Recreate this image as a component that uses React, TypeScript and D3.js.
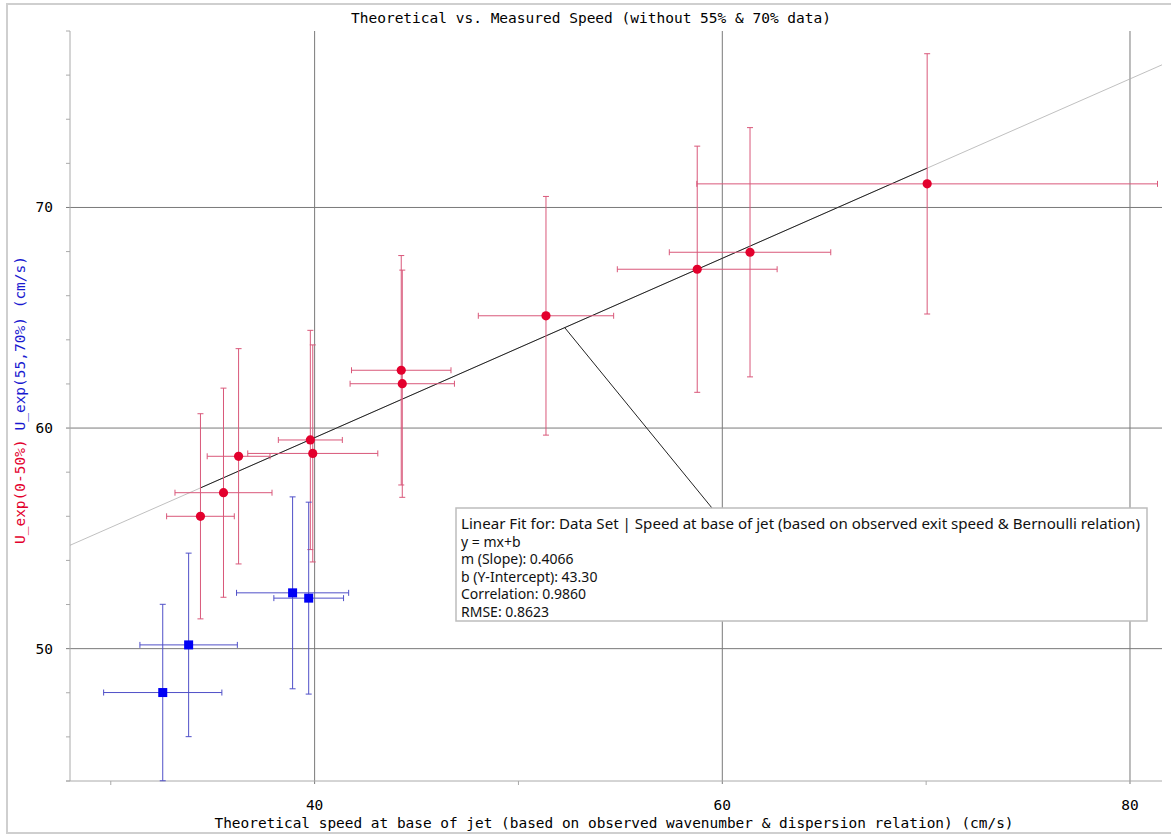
import React from 'react';
import * as d3 from 'd3';

// measured points, 0-50% runs (red) and 55,70% runs (blue)
const redX = [34.4, 35.53, 36.27, 39.79, 39.91, 44.25, 44.3, 51.35, 58.77, 61.36, 70.05];
const redY = [56.0, 57.07, 58.72, 59.46, 58.85, 62.62, 62.01, 65.09, 67.2, 67.97, 71.07];
const redXErr = [1.66, 2.38, 1.54, 1.57, 3.19, 2.44, 2.56, 3.32, 3.92, 3.96, 11.3];
const redYErr = [4.65, 4.74, 4.88, 4.97, 4.92, 5.2, 5.15, 5.41, 5.58, 5.65, 5.9];

const blueX = [32.55, 33.82, 38.92, 39.71];
const blueY = [48.01, 50.17, 52.53, 52.29];
const blueXErr = [2.9, 2.39, 2.75, 1.71];
const blueYErr = [4.0, 4.16, 4.35, 4.35];

const fitSlope = 0.4066;
const fitIntercept = 43.3;
const annotAnchorX = 52.27;

const xMajor = [40, 60, 80];
const xMinor = [30, 50, 70];
const yMajor = [50, 60, 70];

const boxLines = [
  'Linear Fit for: Data Set | Speed at base of jet (based on observed exit speed & Bernoulli relation)',
  'y = mx+b',
  'm (Slope): 0.4066',
  'b (Y-Intercept): 43.30',
  'Correlation: 0.9860',
  'RMSE: 0.8623',
];

const W = 1171;
const H = 837;
const left = 70, right = 1162, top = 31, bottom = 781;

const RED = '#e3002d';
const RED_BAR = '#d9587a';
const BLUE = '#0000f5';
const BLUE_BAR = '#5050c8';
const MONO = '"DejaVu Sans Mono", monospace';

export default function App() {
  const x = d3.scaleLinear().domain([28, 81.57]).range([left, right]);
  const y = d3.scaleLinear().domain([44, 78]).range([bottom, top]);
  const yMinor = y.ticks(17).filter(v => v % 10 !== 0);
  const fit = (v: number) => fitSlope * v + fitIntercept;
  const cap = 3;

  const errBars = (xs: number[], ys: number[], xe: number[], ye: number[], color: string) =>
    xs.map((xv, i) => {
      const cx = x(xv), cy = y(ys[i]);
      const x0 = x(xv - xe[i]), x1 = x(xv + xe[i]);
      const y0 = y(ys[i] - ye[i]), y1 = y(ys[i] + ye[i]);
      return (
        <g key={i} stroke={color} strokeWidth={1} fill="none">
          <line x1={x0} x2={x1} y1={cy} y2={cy} />
          <line x1={x0} x2={x0} y1={cy - cap} y2={cy + cap} />
          <line x1={x1} x2={x1} y1={cy - cap} y2={cy + cap} />
          <line x1={cx} x2={cx} y1={y0} y2={y1} />
          <line x1={cx - cap} x2={cx + cap} y1={y0} y2={y0} />
          <line x1={cx - cap} x2={cx + cap} y1={y1} y2={y1} />
        </g>
      );
    });

  const xMin = d3.min(redX)!, xMax = d3.max(redX)!;
  const ax = x(annotAnchorX), ay = y(fit(annotAnchorX));
  const boxX = 456, boxY = 508, boxW = 691, boxH = 113;

  return (
    <svg width={W} height={H} style={{ position: 'absolute', left: 0, top: 0, background: '#fff' }}>
      <rect x={7} y={4} width={W} height={829} fill="#fff" stroke="#cfcfcf" strokeWidth={2} />

      {/* grid */}
      {xMajor.map(v => (
        <line key={'gx' + v} x1={x(v)} x2={x(v)} y1={top} y2={bottom + 3} stroke="#7a7a7a" />
      ))}
      {yMajor.map(v => (
        <line key={'gy' + v} x1={left - 4} x2={right} y1={y(v)} y2={y(v)} stroke="#7a7a7a" />
      ))}

      {/* axes */}
      <line x1={left} x2={left} y1={top} y2={bottom} stroke="#aaa" />
      <line x1={left - 4} x2={right} y1={bottom} y2={bottom} stroke="#aaa" />
      {yMinor.map(v => (
        <line key={'my' + v} x1={left - 4} x2={left} y1={y(v)} y2={y(v)} stroke="#aaa" />
      ))}
      {xMinor.map(v => (
        <line key={'mx' + v} x1={x(v)} x2={x(v)} y1={bottom} y2={bottom + 4} stroke="#aaa" />
      ))}

      {/* fit line */}
      <line x1={x(28)} x2={x(81.57)} y1={y(fit(28))} y2={y(fit(81.57))} stroke="#b0b0b0" strokeWidth={0.8} />
      <line x1={x(xMin)} x2={x(xMax)} y1={y(fit(xMin))} y2={y(fit(xMax))} stroke="#222" strokeWidth={1} />

      {errBars(redX, redY, redXErr, redYErr, RED_BAR)}
      {errBars(blueX, blueY, blueXErr, blueYErr, BLUE_BAR)}

      {redX.map((v, i) => (
        <circle key={'r' + i} cx={x(v)} cy={y(redY[i])} r={4.6} fill={RED} />
      ))}
      {blueX.map((v, i) => (
        <rect key={'b' + i} x={x(v) - 4.5} y={y(blueY[i]) - 4.5} width={9} height={9} fill={BLUE} />
      ))}

      {/* annotation */}
      <line x1={ax} y1={ay} x2={712} y2={boxY} stroke="#222" strokeWidth={1} />
      <rect x={boxX} y={boxY} width={boxW} height={boxH} fill="#fff" stroke="#bdbdbd" strokeWidth={1.5} />
      {boxLines.map((t, i) => (
        <text
          key={'bl' + i}
          x={461}
          y={529 + i * 17.5}
          fontFamily='"Noto Sans", sans-serif'
          fontSize={14}
          fill="#111"
          {...(i === 0 ? { textLength: 679, lengthAdjust: 'spacingAndGlyphs' } : {})}
        >
          {t}
        </text>
      ))}

      {/* tick labels */}
      {xMajor.map(v => (
        <text key={'tx' + v} x={x(v)} y={810} textAnchor="middle" fontFamily={MONO} fontSize={14.5} fill="#000">
          {v}
        </text>
      ))}
      {yMajor.map(v => (
        <text key={'ty' + v} x={53} y={y(v) + 5} textAnchor="end" fontFamily={MONO} fontSize={14.5} fill="#000">
          {v}
        </text>
      ))}

      {/* titles */}
      <text x={591} y={23} textAnchor="middle" fontFamily={MONO} fontSize={14.5} fill="#000"
        textLength={480} lengthAdjust="spacingAndGlyphs">
        Theoretical vs. Measured Speed (without 55% &amp; 70% data)
      </text>
      <text x={614} y={828} textAnchor="middle" fontFamily={MONO} fontSize={14.5} fill="#000"
        textLength={799} lengthAdjust="spacingAndGlyphs">
        Theoretical speed at base of jet (based on observed wavenumber &amp; dispersion relation) (cm/s)
      </text>
      <text transform={`translate(25, 400) rotate(-90)`} textAnchor="middle"
        fontFamily={MONO} fontSize={14.5}>
        <tspan fill={RED}>U_exp(0-50%)</tspan>
        <tspan fill="#1a1ad0"> U_exp(55,70%) (cm/s)</tspan>
      </text>
    </svg>
  );
}
